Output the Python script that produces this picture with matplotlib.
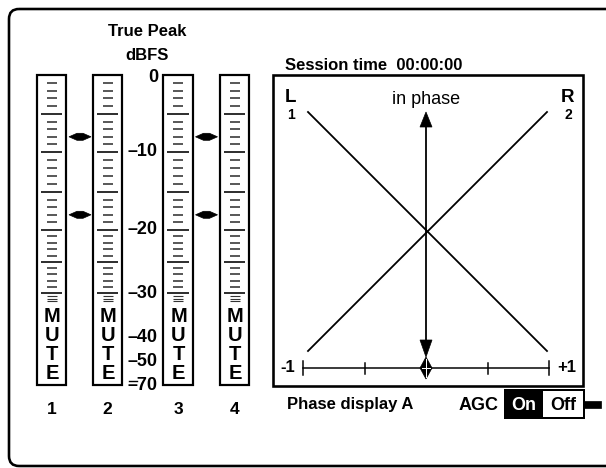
import numpy as np
import matplotlib
matplotlib.use("Agg")
import matplotlib.pyplot as plt
from matplotlib.patches import Rectangle, Polygon, FancyBboxPatch

plt.rcParams['font.family'] = ['Liberation Sans', 'DejaVu Sans']

# ---------------- data ----------------
channels = ['1', '2', '3', '4']
db_label_values = [0, -10, -20, -30, -40, -50, -70]
db_labels = ['0', '–10', '–20', '–30', '–40', '–50', '–70']
minor_tick_db = list(range(-1, -31, -1))      # 1 dB steps down to -30
major_tick_db = [-5, -10, -15, -20, -25, -30]
low_tick_db = [-31, -32, -33]
level_markers_db = [-8, -18]                  # marker arrows between meter pairs
mute_letters = ['M', 'U', 'T', 'E']
phase_ticks = [-1, -0.5, 0, 0.5, 1]
phase_tick_labels = {-1: '-1', 1: '+1'}
correlation = 0.0
title_lines = ['True Peak', 'dBFS']
session_text = 'Session time  00:00:00'
phase_caption = 'Phase display A'
agc_states = ['On', 'Off']
agc_active = 'On'

# ---------------- scales ----------------
# nonlinear meter scale (dB -> pixel row)
_db_anchor = [-70, -50, -40, -33, -30, -25, -20, -15, -10, -5, 0]
_px_anchor = [385, 362, 338, 300, 293, 262, 230, 192, 152, 114, 75]
def y_db(db):
    return np.interp(db, _db_anchor, _px_anchor)

# phase correlation scale (-1..+1 -> pixel column)
def x_corr(c):
    return np.interp(c, [-1, 1], [303, 549])

W, H = 606, 468
fig = plt.figure(figsize=(W / 100, H / 100), dpi=100)
ax = fig.add_axes([0, 0, 1, 1])
ax.set_xlim(0, W)
ax.set_ylim(H, 0)
ax.axis('off')

K = 'black'
PT = 0.72  # px -> pt

# outer rounded frame
frame = FancyBboxPatch((9, 9), 640, 457, boxstyle="round,pad=0,rounding_size=10",
                       fill=False, ec=K, lw=2.6 * PT, clip_on=True)
ax.add_patch(frame)

# ---------------- meters ----------------
meter_x = [(37, 66), (93, 122), (163, 193), (220, 249)]
top, bottom = y_db(0), 385
for (x0, x1), ch in zip(meter_x, channels):
    ax.add_patch(Rectangle((x0, top), x1 - x0, bottom - top, fill=False, ec=K, lw=2.2 * PT))
    cx = (x0 + x1) / 2
    for d in minor_tick_db:
        if d in major_tick_db:
            continue
        ax.plot([cx - 5, cx + 5], [y_db(d)] * 2, color='#333333', lw=1.6 * PT, solid_capstyle='butt')
    for d in major_tick_db:
        ax.plot([x0 + 4, x1 - 4], [y_db(d)] * 2, color=K, lw=1.6 * PT, solid_capstyle='butt')
    for i, d in enumerate(low_tick_db):
        yy = 296 + i * 2.6
        ax.plot([cx - 5, cx + 5], [yy] * 2, color='#333333', lw=1.1 * PT, solid_capstyle='butt')
    for i, letter in enumerate(mute_letters):
        ax.text(cx + 0.5, 317 + i * 18.8, letter, ha='center', va='center',
                fontsize=14.5, fontweight='bold', color=K)
    ax.text(cx, 409, ch, ha='center', va='center', fontsize=12.5, fontweight='bold', color=K)

# level markers between meter 1-2 and 3-4
for mx in [80, 206.5]:
    for d in level_markers_db:
        yy = y_db(d)
        ax.add_patch(Polygon([(mx - 11, yy), (mx - 3, yy - 3.5), (mx + 3, yy - 3.5), (mx + 11, yy),
                              (mx + 3, yy + 3.5), (mx - 3, yy + 3.5)], closed=True, fc=K, ec=K, lw=0.5))

# dB scale labels
for v, lab in zip(db_label_values, db_labels):
    yy = y_db(v) + (2 if v == 0 else 0)
    ax.text(158, yy, lab, ha='right', va='center', fontsize=13, fontweight='bold', color=K)
ax.plot([129, 137], [381, 381], color=K, lw=1.4 * PT)

ax.text(147, 32, title_lines[0], ha='center', va='center', fontsize=12, fontweight='bold')
ax.text(147, 56, title_lines[1], ha='center', va='center', fontsize=12, fontweight='bold')

# ---------------- phase display ----------------
ax.text(285, 65, session_text, ha='left', va='center', fontsize=12, fontweight='bold')
ax.add_patch(Rectangle((273, 75), 310, 311, fill=False, ec=K, lw=2.6 * PT))

cx, cy = x_corr(0), 231.5
ax.plot([308, 547], [112, 351], color=K, lw=1.8 * PT)
ax.plot([547, 308], [112, 351], color=K, lw=1.8 * PT)

ax.text(291, 98, 'L', ha='center', va='center', fontsize=13.5, fontweight='bold')
ax.text(291, 115, '1', ha='center', va='center', fontsize=10, fontweight='bold')
ax.text(568, 98, 'R', ha='center', va='center', fontsize=13.5, fontweight='bold')
ax.text(568, 115, '2', ha='center', va='center', fontsize=10, fontweight='bold')
ax.text(cx, 99, 'in phase', ha='center', va='center', fontsize=13)

# vertical double arrow
ax.plot([cx, cx], [124, 342], color=K, lw=1.8 * PT)
ax.add_patch(Polygon([(cx, 112), (cx - 6, 127), (cx + 6, 127)], closed=True, fc=K, ec=K, lw=0.5))
ax.add_patch(Polygon([(cx, 357), (cx - 6, 340), (cx + 6, 340)], closed=True, fc=K, ec=K, lw=0.5))

# correlation scale
sy = 368
ax.plot([x_corr(-1), x_corr(1)], [sy, sy], color=K, lw=1.5 * PT)
for t in phase_ticks:
    h = 7 if abs(t) == 1 else 5.5
    ax.plot([x_corr(t)] * 2, [sy - h, sy + h], color=K, lw=1.5 * PT)
ax.text(x_corr(-1) - 8, sy, phase_tick_labels[-1], ha='right', va='center', fontsize=12, fontweight='bold')
ax.text(x_corr(1) + 8, sy, phase_tick_labels[1], ha='left', va='center', fontsize=12, fontweight='bold')
px = x_corr(correlation)
ax.add_patch(Polygon([(px, 357), (px + 6, sy), (px, 379), (px - 6, sy)], closed=True, fc=K, ec=K, lw=0.5))
ax.plot([px, px], [359, 377], color='white', lw=1.0 * PT)
ax.plot([px - 4, px + 4], [sy, sy], color='white', lw=1.0 * PT)

ax.text(287, 404, phase_caption, ha='left', va='center', fontsize=12, fontweight='bold')

# AGC switch
ax.text(459, 405, 'AGC', ha='left', va='center', fontsize=13, fontweight='bold')
boxes = {'On': (505, 542), 'Off': (542, 584)}
for st in agc_states:
    b0, b1 = boxes[st]
    active = (st == agc_active)
    ax.add_patch(Rectangle((b0, 390), b1 - b0, 28, fc=K if active else 'white', ec=K, lw=2.0 * PT))
    ax.text((b0 + b1) / 2, 405, st, ha='center', va='center', fontsize=13, fontweight='bold',
            color='white' if active else K)
ax.add_patch(Rectangle((584, 401), 17, 6.5, fc=K, ec=K, lw=0.5))

fig.savefig('out.png', dpi=100)
